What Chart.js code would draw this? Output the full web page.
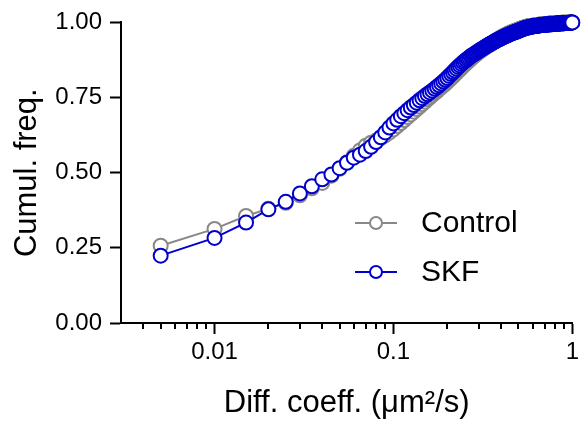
<!DOCTYPE html>
<html>
<head>
<meta charset="utf-8">
<title>Cumulative frequency</title>
<script src="https://cdn.jsdelivr.net/npm/chart.js@4.4.1/dist/chart.umd.min.js"></script>
<style>
  body { margin: 0; background: #fff; }
  #wrap { width: 583px; height: 428px; }
</style>
</head>
<body>
<div id="wrap"><canvas id="cdfChart" width="583" height="428"></canvas></div>
<script>
// Diffusion coefficient bins (um^2/s)
const diffCoeff = [
  0.005,0.01,0.015,0.02,0.025,0.03,0.035,0.04,0.045,0.05,
  0.055,0.06,0.065,0.07,0.075,0.08,0.085,0.09,0.095,0.1,
  0.105,0.11,0.115,0.12,0.125,0.13,0.135,0.14,0.145,0.15,
  0.155,0.16,0.165,0.17,0.175,0.18,0.185,0.19,0.195,0.2,
  0.205,0.21,0.215,0.22,0.225,0.23,0.235,0.24,0.245,0.25,
  0.255,0.26,0.265,0.27,0.275,0.28,0.285,0.29,0.295,0.3,
  0.305,0.31,0.315,0.32,0.325,0.33,0.335,0.34,0.345,0.35,
  0.355,0.36,0.365,0.37,0.375,0.38,0.385,0.39,0.395,0.4,
  0.405,0.41,0.415,0.42,0.425,0.43,0.435,0.44,0.445,0.45,
  0.455,0.46,0.465,0.47,0.475,0.48,0.485,0.49,0.495,0.5,
  0.505,0.51,0.515,0.52,0.525,0.53,0.535,0.54,0.545,0.55,
  0.555,0.56,0.565,0.57,0.575,0.58,0.585,0.59,0.595,0.6,
  0.605,0.61,0.615,0.62,0.625,0.63,0.635,0.64,0.645,0.65,
  0.655,0.66,0.665,0.67,0.675,0.68,0.685,0.69,0.695,0.7,
  0.705,0.71,0.715,0.72,0.725,0.73,0.735,0.74,0.745,0.75,
  0.755,0.76,0.765,0.77,0.775,0.78,0.785,0.79,0.795,0.8,
  0.805,0.81,0.815,0.82,0.825,0.83,0.835,0.84,0.845,0.85,
  0.855,0.86,0.865,0.87,0.875,0.88,0.885,0.89,0.895,0.9,
  0.905,0.91,0.915,0.92,0.925,0.93,0.935,0.94,0.945,0.95,
  0.955,0.96,0.965,0.97,0.975,0.98,0.985,0.99,0.995,1
];

// Cumulative frequency, Control
const controlFreq = [
  0.257,0.313,0.356,0.380,0.400,0.425,0.448,0.466,0.490,0.513,
  0.535,0.556,0.574,0.590,0.600,0.607,0.615,0.624,0.634,0.644,
  0.655,0.665,0.675,0.685,0.694,0.703,0.712,0.720,0.728,0.736,
  0.744,0.751,0.758,0.765,0.771,0.778,0.784,0.790,0.796,0.802,
  0.808,0.814,0.820,0.826,0.832,0.838,0.843,0.849,0.854,0.859,
  0.864,0.869,0.873,0.878,0.882,0.886,0.890,0.894,0.897,0.901,
  0.904,0.907,0.910,0.913,0.916,0.919,0.921,0.924,0.926,0.929,
  0.931,0.934,0.936,0.938,0.940,0.942,0.944,0.946,0.948,0.950,
  0.952,0.954,0.955,0.957,0.958,0.960,0.961,0.963,0.964,0.965,
  0.966,0.968,0.969,0.970,0.971,0.972,0.973,0.974,0.975,0.976,
  0.977,0.978,0.979,0.980,0.981,0.982,0.983,0.983,0.984,0.985,
  0.985,0.986,0.986,0.987,0.987,0.988,0.988,0.988,0.989,0.989,
  0.989,0.990,0.990,0.990,0.991,0.991,0.991,0.991,0.992,0.992,
  0.992,0.992,0.993,0.993,0.993,0.993,0.993,0.994,0.994,0.994,
  0.994,0.994,0.995,0.995,0.995,0.995,0.995,0.995,0.996,0.996,
  0.996,0.996,0.996,0.996,0.996,0.997,0.997,0.997,0.997,0.997,
  0.997,0.997,0.997,0.998,0.998,0.998,0.998,0.998,0.998,0.998,
  0.998,0.998,0.998,0.999,0.999,0.999,0.999,0.999,0.999,0.999,
  0.999,0.999,0.999,0.999,0.999,0.999,0.999,0.999,0.999,0.999,
  1.000,1.000,1.000,1.000,1.000,1.000,1.000,1.000,1.000,1.000
];

// Cumulative frequency, SKF
const skfFreq = [
  0.224,0.283,0.334,0.378,0.403,0.431,0.455,0.478,0.494,0.515,
  0.533,0.550,0.560,0.572,0.586,0.602,0.618,0.634,0.650,0.664,
  0.676,0.688,0.698,0.708,0.717,0.725,0.733,0.741,0.748,0.755,
  0.761,0.767,0.773,0.779,0.785,0.791,0.797,0.803,0.809,0.815,
  0.822,0.828,0.834,0.840,0.846,0.852,0.857,0.862,0.867,0.871,
  0.875,0.879,0.883,0.887,0.890,0.893,0.896,0.899,0.902,0.905,
  0.908,0.910,0.913,0.915,0.918,0.920,0.923,0.925,0.927,0.929,
  0.931,0.933,0.935,0.937,0.939,0.941,0.943,0.944,0.946,0.948,
  0.949,0.951,0.952,0.954,0.955,0.956,0.958,0.959,0.960,0.962,
  0.963,0.964,0.965,0.966,0.967,0.968,0.969,0.970,0.971,0.972,
  0.973,0.974,0.975,0.976,0.977,0.978,0.979,0.980,0.981,0.982,
  0.982,0.983,0.983,0.984,0.984,0.985,0.985,0.986,0.986,0.987,
  0.987,0.987,0.988,0.988,0.988,0.989,0.989,0.989,0.990,0.990,
  0.990,0.990,0.991,0.991,0.991,0.991,0.992,0.992,0.992,0.992,
  0.992,0.993,0.993,0.993,0.993,0.993,0.993,0.994,0.994,0.994,
  0.994,0.994,0.994,0.994,0.995,0.995,0.995,0.995,0.995,0.995,
  0.995,0.995,0.996,0.996,0.996,0.996,0.996,0.996,0.996,0.996,
  0.997,0.997,0.997,0.997,0.997,0.997,0.997,0.997,0.997,0.997,
  0.998,0.998,0.998,0.998,0.998,0.998,0.998,0.998,0.998,0.998,
  0.999,0.999,0.999,0.999,0.999,0.999,0.999,0.999,1.000,1.000
];

// Axis ticks
const xMajorTicks = [0.01, 0.1, 1];
const xMinorTicks = [0.004,0.005,0.006,0.007,0.008,0.009,
  0.02,0.03,0.04,0.05,0.06,0.07,0.08,0.09,
  0.2,0.3,0.4,0.5,0.6,0.7,0.8,0.9];
const yTicks = [0, 0.25, 0.5, 0.75, 1];

const FONT = 'Arial, "Liberation Sans", Helvetica, sans-serif';
const GRAY = '#888888';
const BLUE = '#0000CC';

const toPoints = ys => diffCoeff.map((x, i) => ({ x: x, y: ys[i] }));

// Short minor tick marks under the x axis
const minorTickPlugin = {
  id: 'minorTicks',
  afterDraw(chart) {
    const scale = chart.scales.x;
    const ctx = chart.ctx;
    const y0 = chart.chartArea.bottom;
    ctx.save();
    ctx.strokeStyle = '#000';
    ctx.lineWidth = 2;
    ctx.beginPath();
    xMinorTicks.forEach(v => {
      const px = Math.round(scale.getPixelForValue(v));
      ctx.moveTo(px, y0);
      ctx.lineTo(px, y0 + 6);
    });
    ctx.stroke();
    ctx.restore();
  }
};

// Legend inside the plot, line + marker + label
const insideLegend = {
  id: 'insideLegend',
  afterDraw(chart) {
    const ctx = chart.ctx;
    const rows = [
      { ds: chart.data.datasets[0], y: 223 },
      { ds: chart.data.datasets[1], y: 272 }
    ];
    ctx.save();
    rows.forEach(r => {
      ctx.strokeStyle = r.ds.borderColor;
      ctx.lineWidth = 2;
      ctx.beginPath();
      ctx.moveTo(355, r.y);
      ctx.lineTo(397, r.y);
      ctx.stroke();
      ctx.beginPath();
      ctx.arc(376, r.y, 6, 0, Math.PI * 2);
      ctx.fillStyle = '#fff';
      ctx.fill();
      ctx.stroke();
      ctx.fillStyle = '#000';
      ctx.font = '30px ' + FONT;
      ctx.textBaseline = 'middle';
      ctx.textAlign = 'left';
      ctx.fillText(r.ds.label, 421, r.y + 1);
    });
    ctx.restore();
  }
};

const ctx = document.getElementById('cdfChart').getContext('2d');

new Chart(ctx, {
  type: 'line',
  data: {
    datasets: [
      {
        label: 'Control',
        data: toPoints(controlFreq),
        borderColor: GRAY,
        backgroundColor: '#fff',
        borderWidth: 2,
        pointRadius: 7,
        pointBorderWidth: 2,
        pointBackgroundColor: '#fff',
        pointBorderColor: GRAY,
        tension: 0,
        clip: false,
        order: 1
      },
      {
        label: 'SKF',
        data: toPoints(skfFreq),
        borderColor: BLUE,
        backgroundColor: '#fff',
        borderWidth: 2,
        pointRadius: 7,
        pointBorderWidth: 2,
        pointBackgroundColor: '#fff',
        pointBorderColor: BLUE,
        tension: 0,
        clip: false,
        order: 0
      }
    ]
  },
  options: {
    responsive: false,
    animation: false,
    events: [],
    layout: { padding: { top: 20, right: 8, left: 0, bottom: 0 } },
    plugins: {
      legend: { display: false },
      tooltip: { enabled: false }
    },
    scales: {
      x: {
        type: 'logarithmic',
        min: 0.003,
        max: 1,
        afterFit(scale) { scale.height = 105; },
        afterBuildTicks(scale) {
          scale.ticks = xMajorTicks.map(v => ({ value: v, major: true }));
        },
        border: { display: true, color: '#000', width: 2 },
        grid: {
          display: true,
          drawOnChartArea: false,
          drawTicks: true,
          tickLength: 11,
          tickWidth: 2,
          tickColor: '#000'
        },
        ticks: {
          autoSkip: false,
          maxRotation: 0,
          padding: 4,
          color: '#000',
          font: { family: FONT, size: 24 },
          callback: v => String(v)
        },
        title: {
          display: true,
          text: 'Diff. coeff. (\u03BCm\u00B2/s)',
          color: '#000',
          font: { family: FONT, size: 31 },
          padding: { top: 0, bottom: 6 }
        }
      },
      y: {
        min: 0,
        max: 1,
        afterFit(scale) { scale.width = 121; },
        afterBuildTicks(scale) {
          scale.ticks = yTicks.map(v => ({ value: v }));
        },
        border: { display: true, color: '#000', width: 2 },
        grid: {
          display: true,
          drawOnChartArea: false,
          drawTicks: true,
          tickLength: 11,
          tickWidth: 2,
          tickColor: '#000'
        },
        ticks: {
          padding: 8,
          color: '#000',
          font: { family: FONT, size: 24 },
          callback: v => Number(v).toFixed(2)
        },
        title: {
          display: true,
          text: 'Cumul. freq.',
          color: '#000',
          font: { family: FONT, size: 31 },
          padding: { top: 9, bottom: 0 }
        }
      }
    }
  },
  plugins: [minorTickPlugin, insideLegend]
});
</script>
</body>
</html>
